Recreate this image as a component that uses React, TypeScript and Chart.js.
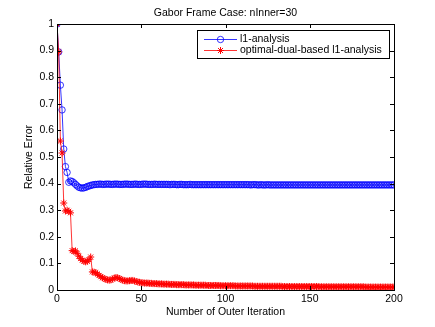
import React, { useEffect, useRef } from "react";
import { Chart, registerables } from "chart.js";

Chart.register(...registerables);

const chartTitle = "Gabor Frame Case: nInner=30";
const xAxisTitle = "Number of Outer Iteration";
const yAxisTitle = "Relative Error";
const seriesNames = ["l1-analysis", "optimal-dual-based l1-analysis"];
const xTicks = [0, 50, 100, 150, 200];
const yTicks = [0, 0.1, 0.2, 0.3, 0.4, 0.5, 0.6, 0.7, 0.8, 0.9, 1];

const l1Analysis = [
  1.000, 0.895, 0.770, 0.677, 0.530, 0.464, 0.442, 0.405, 0.410, 0.408,
  0.403, 0.397, 0.391, 0.386, 0.384, 0.383, 0.384, 0.386, 0.389, 0.391,
  0.393, 0.395, 0.396, 0.397, 0.397, 0.398, 0.398, 0.397, 0.397, 0.398,
  0.398, 0.398, 0.397, 0.397, 0.398, 0.398, 0.398, 0.397, 0.397, 0.397,
  0.398, 0.398, 0.398, 0.397, 0.397, 0.397, 0.398, 0.398, 0.397, 0.397,
  0.397, 0.398, 0.398, 0.398, 0.397, 0.397, 0.397, 0.397, 0.398, 0.397,
  0.397, 0.397, 0.397, 0.397, 0.397, 0.397, 0.397, 0.396, 0.397, 0.397,
  0.397, 0.396, 0.396, 0.397, 0.397, 0.396, 0.396, 0.396, 0.396, 0.397,
  0.396, 0.396, 0.396, 0.396, 0.396, 0.396, 0.396, 0.396, 0.396, 0.396,
  0.396, 0.396, 0.396, 0.396, 0.396, 0.396, 0.396, 0.396, 0.396, 0.396,
  0.396, 0.396, 0.396, 0.396, 0.396, 0.396, 0.396, 0.396, 0.396, 0.396,
  0.396, 0.396, 0.396, 0.396, 0.396, 0.395, 0.396, 0.396, 0.396, 0.395,
  0.395, 0.396, 0.395, 0.395, 0.395, 0.396, 0.395, 0.395, 0.395, 0.395,
  0.395, 0.395, 0.395, 0.395, 0.395, 0.395, 0.395, 0.395, 0.395, 0.395,
  0.395, 0.395, 0.395, 0.395, 0.395, 0.395, 0.395, 0.395, 0.395, 0.395,
  0.395, 0.395, 0.395, 0.395, 0.395, 0.395, 0.395, 0.395, 0.395, 0.395,
  0.395, 0.395, 0.395, 0.395, 0.395, 0.395, 0.395, 0.395, 0.395, 0.395,
  0.395, 0.395, 0.395, 0.395, 0.395, 0.395, 0.395, 0.395, 0.395, 0.395,
  0.395, 0.395, 0.395, 0.395, 0.395, 0.395, 0.395, 0.395, 0.395, 0.395,
  0.395, 0.395, 0.395, 0.395, 0.395, 0.395, 0.395, 0.395, 0.395, 0.395,
  0.395,
];

const optimalDual = [
  1.000, 0.895, 0.560, 0.515, 0.327, 0.297, 0.300, 0.296, 0.290, 0.148,
  0.145, 0.147, 0.138, 0.127, 0.118, 0.112, 0.108, 0.106, 0.108, 0.114,
  0.124, 0.068, 0.067, 0.065, 0.060, 0.055, 0.050, 0.046, 0.043, 0.040,
  0.038, 0.037, 0.038, 0.041, 0.045, 0.047, 0.046, 0.043, 0.040, 0.037,
  0.035, 0.034, 0.034, 0.035, 0.036, 0.036, 0.034, 0.032, 0.030, 0.029,
  0.027, 0.027, 0.026, 0.026, 0.026, 0.025, 0.025, 0.024, 0.024, 0.024,
  0.023, 0.023, 0.023, 0.022, 0.022, 0.022, 0.022, 0.021, 0.021, 0.021,
  0.021, 0.020, 0.020, 0.020, 0.020, 0.020, 0.019, 0.019, 0.019, 0.019,
  0.019, 0.019, 0.018, 0.018, 0.018, 0.018, 0.018, 0.018, 0.018, 0.017,
  0.017, 0.017, 0.017, 0.017, 0.017, 0.017, 0.017, 0.016, 0.016, 0.016,
  0.016, 0.016, 0.016, 0.016, 0.016, 0.016, 0.015, 0.015, 0.015, 0.015,
  0.015, 0.015, 0.015, 0.015, 0.015, 0.015, 0.015, 0.014, 0.014, 0.014,
  0.014, 0.014, 0.014, 0.014, 0.014, 0.014, 0.014, 0.014, 0.014, 0.014,
  0.014, 0.014, 0.014, 0.014, 0.013, 0.013, 0.013, 0.013, 0.013, 0.013,
  0.013, 0.013, 0.013, 0.013, 0.013, 0.013, 0.013, 0.013, 0.013, 0.013,
  0.013, 0.013, 0.013, 0.013, 0.013, 0.013, 0.012, 0.012, 0.012, 0.012,
  0.012, 0.012, 0.012, 0.012, 0.012, 0.012, 0.012, 0.012, 0.012, 0.012,
  0.012, 0.012, 0.012, 0.012, 0.012, 0.012, 0.012, 0.012, 0.012, 0.012,
  0.012, 0.012, 0.012, 0.011, 0.011, 0.011, 0.011, 0.011, 0.011, 0.011,
  0.011, 0.011, 0.011, 0.011, 0.011, 0.011, 0.011, 0.011, 0.011, 0.011,
  0.011,
];

const iterations = l1Analysis.map((_, i) => i);

const FONT = "'Liberation Sans', Arial, Helvetica, sans-serif";
const FS = 10.5;
const BLUE = "#0000ff";
const RED = "#ff0000";

function drawStar(ctx: CanvasRenderingContext2D, x: number, y: number, r: number) {
  ctx.beginPath();
  ctx.moveTo(x - r, y);
  ctx.lineTo(x + r, y);
  ctx.moveTo(x, y - r);
  ctx.lineTo(x, y + r);
  const d = r * 0.7071;
  ctx.moveTo(x - d, y - d);
  ctx.lineTo(x + d, y + d);
  ctx.moveTo(x - d, y + d);
  ctx.lineTo(x + d, y - d);
  ctx.stroke();
}

const framePlugin = {
  id: "matlabFrame",
  afterDatasetsDraw(chart: any) {
    const { ctx, chartArea } = chart;
    const { left, right, top, bottom } = chartArea;
    const xs = chart.scales.x;
    const ys = chart.scales.y;
    ctx.save();
    ctx.strokeStyle = "#000";
    ctx.lineWidth = 1;
    ctx.strokeRect(Math.round(left) + 0.5, Math.round(top) + 0.5, Math.round(right - left), Math.round(bottom - top));
    const tl = 4;
    ctx.beginPath();
    xTicks.forEach((v) => {
      const px = Math.round(xs.getPixelForValue(v)) + 0.5;
      ctx.moveTo(px, bottom);
      ctx.lineTo(px, bottom - tl);
      ctx.moveTo(px, top);
      ctx.lineTo(px, top + tl);
    });
    yTicks.forEach((v) => {
      const py = Math.round(ys.getPixelForValue(v)) + 0.5;
      ctx.moveTo(left, py);
      ctx.lineTo(left + tl, py);
      ctx.moveTo(right, py);
      ctx.lineTo(right - tl, py);
    });
    ctx.stroke();

    // titles
    ctx.fillStyle = "#000";
    ctx.font = `${FS}px ${FONT}`;
    ctx.textAlign = "center";
    ctx.textBaseline = "middle";
    const cx = (left + right) / 2;
    ctx.fillText(chartTitle, cx, 13);
    ctx.fillText(xAxisTitle, cx, 312);
    ctx.save();
    ctx.translate(29, (top + bottom) / 2);
    ctx.rotate(-Math.PI / 2);
    ctx.fillText(yAxisTitle, 0, 0);
    ctx.restore();

    // legend
    const lx = 197.5, ly = 30.5, lw = 192, lh = 28;
    ctx.fillStyle = "#fff";
    ctx.fillRect(lx, ly, lw, lh);
    ctx.strokeStyle = "#000";
    ctx.strokeRect(lx, ly, lw, lh);
    const rows = [39.5, 50.5];
    const colors = [BLUE, RED];
    rows.forEach((ry, i) => {
      ctx.strokeStyle = colors[i];
      ctx.lineWidth = 0.8;
      ctx.beginPath();
      ctx.moveTo(204, ry);
      ctx.lineTo(237, ry);
      ctx.stroke();
      if (i === 0) {
        ctx.beginPath();
        ctx.arc(220.5, ry, 3.2, 0, Math.PI * 2);
        ctx.stroke();
      } else {
        ctx.lineWidth = 1;
        drawStar(ctx, 220.5, ry, 3.5);
      }
      ctx.fillStyle = "#000";
      ctx.textAlign = "left";
      ctx.fillText(seriesNames[i], 240, ry);
    });
    ctx.restore();
  },
};

export default function App() {
  const ref = useRef<HTMLCanvasElement | null>(null);
  useEffect(() => {
    if (!ref.current) return;
    const chart = new Chart(ref.current, {
      type: "line",
      data: {
        datasets: [
          {
            label: seriesNames[0],
            data: iterations.map((x, i) => ({ x, y: l1Analysis[i] })),
            borderColor: BLUE,
            backgroundColor: "rgba(0,0,0,0)",
            borderWidth: 0.8,
            pointStyle: "circle",
            pointRadius: 3.2,
            pointBorderWidth: 0.8,
            pointBorderColor: BLUE,
            pointBackgroundColor: "rgba(0,0,0,0)",
            order: 1,
            tension: 0,
          },
          {
            label: seriesNames[1],
            data: iterations.map((x, i) => ({ x, y: optimalDual[i] })),
            borderColor: RED,
            backgroundColor: "rgba(0,0,0,0)",
            borderWidth: 0.8,
            pointStyle: "star",
            pointRadius: 3.5,
            pointBorderWidth: 1,
            pointBorderColor: RED,
            pointBackgroundColor: RED,
            order: 0,
            tension: 0,
          },
        ],
      },
      options: {
        animation: false,
        responsive: false,
        devicePixelRatio: 1,
        layout: { padding: { left: 0, right: 41, top: 24, bottom: 0 } },
        plugins: {
          legend: { display: false },
          title: { display: false },
          tooltip: { enabled: false },
        },
        scales: {
          x: {
            type: "linear",
            min: 0,
            max: 200,
            afterBuildTicks: (s: any) => {
              s.ticks = xTicks.map((v) => ({ value: v }));
            },
            ticks: { color: "#000", font: { family: FONT, size: FS }, padding: 3, maxRotation: 0 },
            grid: { display: false, drawTicks: false },
            border: { display: false },
            afterFit: (s: any) => {
              s.height = 37;
            },
          },
          y: {
            type: "linear",
            min: 0,
            max: 1,
            afterBuildTicks: (s: any) => {
              s.ticks = yTicks.map((v) => ({ value: v }));
            },
            ticks: {
              color: "#000",
              font: { family: FONT, size: FS },
              padding: 3,
              callback: (v: any) => String(Math.round(Number(v) * 10) / 10),
            },
            grid: { display: false, drawTicks: false },
            border: { display: false },
            afterFit: (s: any) => {
              s.width = 57;
            },
          },
        },
      },
      plugins: [framePlugin],
    });
    return () => chart.destroy();
  }, []);
  return (
    <div style={{ position: "fixed", left: 0, top: 0, width: 435, height: 327, background: "#fff" }}>
      <canvas ref={ref} width={435} height={327} style={{ width: 435, height: 327 }} />
    </div>
  );
}
